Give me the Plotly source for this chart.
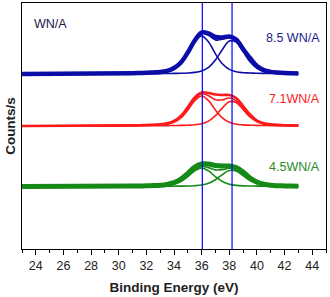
import numpy as np
import plotly.graph_objects as go

# Binding energy grid (eV)
energy = [23, 31, 31.5, 32, 32.5, 33, 33.5, 34, 34.5, 35, 35.5, 36, 36.5, 37, 37.5,
          38, 38.5, 39, 39.5, 40, 40.5, 41, 41.5, 42, 42.5, 43]

# Peak positions marked by vertical lines (eV)
peak_lines = [36.05, 38.2]

# Baseline offsets of the stacked spectra (arb. counts)
base_85 = 175
base_71 = 123
base_45 = 62.5

# 8.5 WN/A : measured spectrum and fitted components (height above baseline)
data_85 = [0, 0.8, 1.0, 1.2, 1.6, 2.0, 3.2, 6.0, 11.5, 21.5, 33.5, 41.5, 40.5, 37, 36.5,
           37.5, 34.5, 25, 16, 8, 3.8, 2.1, 1.4, 1.0, 0.8, 0.6]
comp1_85 = [0, 0.5, 0.6, 0.7, 1.0, 1.3, 2.2, 4.6, 10.2, 20.1, 32.0, 38, 32.0, 20.1, 10.2,
            4.6, 2.2, 1.3, 1.0, 0.7, 0.6, 0.5, 0.4, 0.3, 0.3, 0.3]
comp2_85 = [0, 0.2, 0.2, 0.3, 0.3, 0.4, 0.5, 0.6, 0.7, 1.0, 1.6, 3.1, 6.7, 14.0, 24.5,
            33.0, 31.9, 22.4, 12.2, 5.7, 2.6, 1.4, 1.0, 0.7, 0.6, 0.5]

# 7.1 WN/A
data_71 = [0, 0.6, 0.8, 1.0, 1.3, 1.7, 2.7, 5.0, 10, 19, 28.5, 33.5, 33, 31.5, 31,
           31, 28, 20, 11.5, 5.5, 2.8, 1.6, 1.1, 0.8, 0.6, 0.5]
comp1_71 = [0, 0.4, 0.5, 0.6, 0.8, 1.1, 1.8, 3.7, 8.1, 15.9, 25.3, 30, 25.3, 15.9, 8.1,
            3.7, 1.8, 1.1, 0.8, 0.6, 0.5, 0.4, 0.3, 0.3, 0.2, 0.2]
comp2_71 = [0, 0.2, 0.2, 0.2, 0.3, 0.3, 0.4, 0.5, 0.6, 0.8, 1.2, 2.3, 4.9, 10.3, 18.1,
            24.3, 23.5, 16.5, 9.0, 4.2, 1.9, 1.1, 0.7, 0.5, 0.4, 0.4]

# 4.5 WN/A
data_45 = [0, 0.4, 0.5, 0.7, 0.9, 1.2, 2.0, 3.8, 7.5, 13, 19.5, 22.5, 22.5, 21, 20.5,
           20.5, 19, 14.5, 8.5, 4.5, 2.2, 1.2, 0.8, 0.6, 0.4, 0.3]
comp1_45 = [0, 0.2, 0.3, 0.4, 0.5, 0.6, 1.1, 2.3, 5.0, 9.8, 15.6, 18.5, 15.6, 9.8, 5.0,
            2.3, 1.1, 0.6, 0.5, 0.4, 0.3, 0.2, 0.2, 0.2, 0.1, 0.1]
comp2_45 = [0, 0.1, 0.1, 0.1, 0.2, 0.2, 0.2, 0.3, 0.4, 0.5, 0.8, 1.5, 3.3, 6.8, 11.9,
            16.0, 15.5, 10.9, 5.9, 2.8, 1.3, 0.7, 0.5, 0.3, 0.3, 0.2]

# Labels
sample_labels = ["8.5 WN/A", "7.1WN/A", "4.5WN/A"]
x_ticks = [24, 26, 28, 30, 32, 34, 36, 38, 40, 42, 44]

series = [
    (base_85, data_85, comp1_85, comp2_85, "#0c0ca6", 4.5),
    (base_71, data_71, comp1_71, comp2_71, "#ff1a1a", 2.6),
    (base_45, data_45, comp1_45, comp2_45, "#168a16", 5.0),
]

FONT = "Arial, Liberation Sans, sans-serif"
fig = go.Figure()
x = np.array(energy)
for base, data, c1, c2, col, w in series:
    d = np.array(data, float)
    a = np.array(c1, float)
    b = np.array(c2, float)
    fig.add_trace(go.Scatter(x=x, y=base + d, mode="lines",
                             line=dict(color=col, width=w, shape="spline"),
                             showlegend=False, hoverinfo="skip"))
    for yy in (base + a, base + b, base + a + b):
        fig.add_trace(go.Scatter(x=x, y=yy, mode="lines",
                                 line=dict(color=col, width=1.6, shape="spline"),
                                 showlegend=False, hoverinfo="skip"))

for pl in peak_lines:
    fig.add_shape(type="line", x0=pl, x1=pl, y0=0, y1=1, yref="paper", xref="x",
                  line=dict(color="#0000ff", width=1.2))

label_y = [211, 150, 82]
label_col = ["#1c1c8c", "#ff2020", "#2a8a2a"]
for lab, yy, c in zip(sample_labels, label_y, label_col):
    fig.add_annotation(x=44.7, y=yy, text=lab, showarrow=False, xanchor="right",
                       yanchor="middle", font=dict(family=FONT, size=12.5, color=c))
fig.add_annotation(x=23.7, y=225, text="WN/A", showarrow=False, xanchor="left",
                   yanchor="middle", font=dict(family=FONT, size=12.5, color="#1a1a4a"))

fig.update_layout(
    width=330, height=297,
    margin=dict(l=22, r=4, t=3, b=48),
    paper_bgcolor="white", plot_bgcolor="white",
    font=dict(family=FONT, color="#222222"),
    xaxis=dict(range=[23, 45], tickvals=x_ticks, ticks="outside", ticklen=5,
               tickcolor="black", tickwidth=1, showgrid=False, zeroline=False,
               showline=True, linecolor="black", linewidth=1, mirror=True,
               automargin=False,
               tickfont=dict(size=12.5, family=FONT, color="#222222"),
               minor=dict(dtick=1, tick0=23, ticks="outside", ticklen=3, tickcolor="black"),
               title=dict(text="<b>Binding Energy (eV)</b>", standoff=10,
                          font=dict(size=13.5, family=FONT, color="#222222"))),
    yaxis=dict(range=[0, 246], showticklabels=False, ticks="", showgrid=False,
               zeroline=False, showline=True, linecolor="black", linewidth=1, mirror=True,
               automargin=False,
               title=dict(text="<b>Counts/s</b>", standoff=2,
                          font=dict(size=13.5, family=FONT, color="#222222"))),
)

fig.write_html("out.html", config={"displayModeBar": False},
               post_script="document.body.style.margin='0';")
